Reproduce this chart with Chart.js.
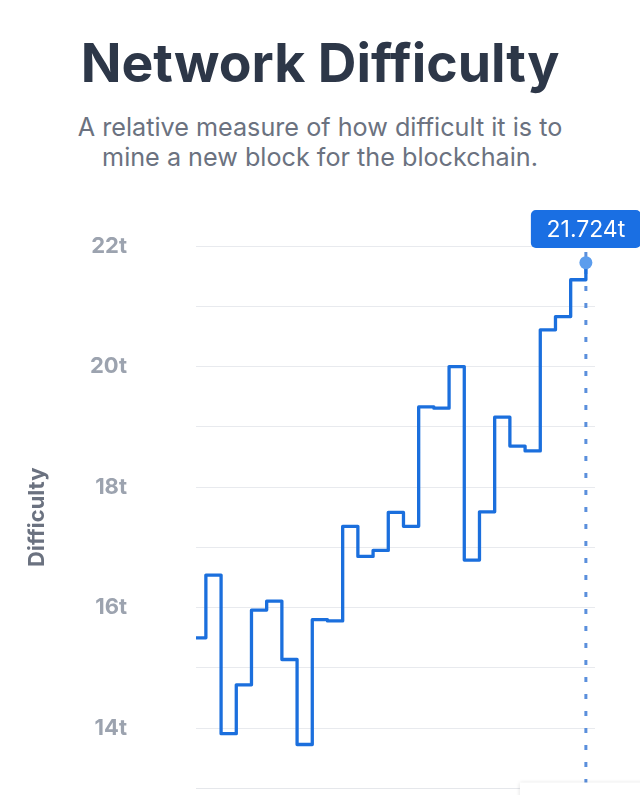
<!DOCTYPE html>
<html>
<head>
<meta charset="utf-8">
<script src="https://cdn.jsdelivr.net/npm/chart.js@4"></script>
<style>
  html, body { margin: 0; padding: 0; background: #fff; }
  body { width: 640px; height: 795px; overflow: hidden; position: relative; font-family: Inter, "Noto Sans", sans-serif; }
  h1 { position: absolute; top: 35px; left: 0; width: 640px; margin: 0; text-align: center;
       font-size: 53.5px; line-height: 55px; font-weight: 700; color: #2d3748; }
  p.sub { position: absolute; top: 112px; left: 0; width: 640px; margin: 0; text-align: center;
          font-size: 25.2px; line-height: 30px; color: #6b7280; }
  .wrap { position: absolute; left: 0; top: 200px; width: 640px; height: 595px; }
</style>
</head>
<body>
<h1>Network Difficulty</h1>
<p class="sub">A relative measure of how difficult it is to<br>mine a new block for the blockchain.</p>
<div class="wrap"><canvas id="difficultyChart"></canvas></div>
<script>
// adjustment periods (index) and difficulty in trillions
const periods = [0, 1, 2, 3, 4, 5, 6, 7, 8, 9, 10, 11, 12, 13, 14, 15, 16, 17, 18, 19, 20, 21, 22, 23, 24, 25, 26];
const difficulty = [15.50, 16.54, 13.91, 14.72, 15.96, 16.11, 15.14, 13.73, 15.80, 15.78, 17.35, 16.85, 16.95, 17.58, 17.35,
  19.33, 19.31, 20.00, 16.79, 17.59, 19.16, 18.68, 18.60, 20.61, 20.83, 21.44, 21.724];
const yTicks = [14, 16, 18, 20, 22];

document.addEventListener("DOMContentLoaded", () => {
  const ctx = document.getElementById("difficultyChart").getContext("2d");
  const lastIdx = difficulty.length - 1;

  const crosshair = {
    id: "crosshair",
    beforeDatasetsDraw(chart) {
      const pt = chart.getDatasetMeta(0).data[lastIdx];
      const c = chart.ctx;
      c.save();
      c.strokeStyle = "#5a8fdc";
      c.lineWidth = 3;
      c.setLineDash([5, 12]);
      c.beginPath();
      c.moveTo(pt.x, 52);
      c.lineTo(pt.x, chart.height);
      c.stroke();
      c.restore();
    },
    afterDraw(chart) {
      const pt = chart.getDatasetMeta(0).data[lastIdx];
      const c = chart.ctx;
      c.save();
      // value label
      const w = 110, h = 38, top = 10;
      c.fillStyle = "#1a6fe3";
      c.beginPath();
      c.roundRect(pt.x - w / 2, top, w, h, 5);
      c.fill();
      c.fillStyle = "#fff";
      c.font = "23px Inter";
      c.textAlign = "center";
      c.textBaseline = "middle";
      c.fillText(difficulty[lastIdx].toFixed(3) + "t", pt.x, top + h / 2 + 1);
      // date label box (cut off at bottom)
      c.shadowColor = "rgba(0,0,0,0.15)";
      c.shadowBlur = 4;
      c.fillStyle = "#fff";
      c.fillRect(pt.x - 66, chart.chartArea.bottom - 6, 140, 40);
      c.restore();
    }
  };

  new Chart(ctx, {
    type: "line",
    data: {
      datasets: [{
        data: periods.map((p, i) => ({ x: p, y: difficulty[i] })),
        stepped: true,
        borderColor: "#1b6fdd",
        borderWidth: 3.3,
        borderJoinStyle: "round",
        pointRadius: c => c.dataIndex === lastIdx ? 6.5 : 0,
        pointBackgroundColor: "#5c9ded",
        pointBorderWidth: 0,
        fill: false
      }]
    },
    options: {
      responsive: true,
      maintainAspectRatio: false,
      animation: false,
      layout: { padding: { left: 20, right: 45, top: 46, bottom: 4 } },
      plugins: {
        legend: { display: false },
        tooltip: { enabled: false }
      },
      scales: {
        x: {
          type: "linear",
          min: 0.35,
          max: 26.6,
          ticks: { display: false },
          grid: { display: false, drawTicks: false },
          border: { display: true, color: "#e5e7eb" }
        },
        y: {
          min: 13,
          max: 22,
          afterFit: s => { s.width = 176; s.paddingTop = 0; s.paddingBottom = 0; },
          ticks: {
            stepSize: 1,
            padding: 69,
            color: "#9ca3af",
            font: { family: "Inter", size: 22, weight: "bold" },
            callback: v => yTicks.includes(v) ? v + "t" : ""
          },
          grid: { color: "#e8eaee", drawTicks: false },
          border: { display: false },
          title: {
            display: true,
            text: "Difficulty",
            color: "#6b7280",
            font: { family: "Inter", size: 22, weight: "bold" }
          }
        }
      }
    },
    plugins: [crosshair]
  });
});
</script>
</body>
</html>
